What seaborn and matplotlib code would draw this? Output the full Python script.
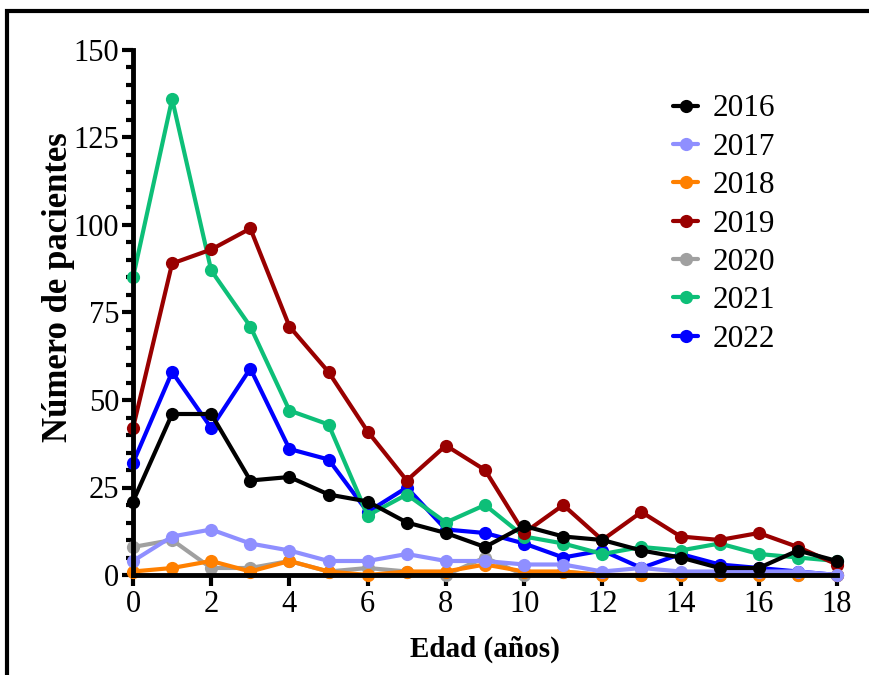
import numpy as np
import pandas as pd
import matplotlib
matplotlib.use("Agg")
import matplotlib.pyplot as plt
from matplotlib.patches import Rectangle
from matplotlib.lines import Line2D
from matplotlib.ticker import MultipleLocator
import seaborn as sns

# Patients per age (0-18 years), by year
edad = list(range(19))
y2016 = [21, 46, 46, 27, 28, 23, 21, 15, 12, 8, 14, 11, 10, 7, 5, 2, 2, 7, 4]
y2017 = [4, 11, 13, 9, 7, 4, 4, 6, 4, 4, 3, 3, 1, 2, 1, 1, 1, 1, 0]
y2018 = [1, 2, 4, 1, 4, 1, 0, 1, 1, 3, 1, 1, 0, 0, 0, 0, 0, 0, 0]
y2019 = [42, 89, 93, 99, 71, 58, 41, 27, 37, 30, 12, 20, 10, 18, 11, 10, 12, 8, 3]
y2020 = [8, 10, 2, 2, 4, 1, 2, 1, 0, 5, 0, 1, 0, 0, 0, 0, 0, 0, 0]
y2021 = [85, 136, 87, 71, 47, 43, 17, 23, 15, 20, 11, 9, 6, 8, 7, 9, 6, 5, 4]
y2022 = [32, 58, 42, 59, 36, 33, 18, 25, 13, 12, 9, 5, 7, 2, 6, 3, 2, 1, 0]

years = ["2016", "2017", "2018", "2019", "2020", "2021", "2022"]
series = [y2016, y2017, y2018, y2019, y2020, y2021, y2022]
colors = ["#000000", "#8F8FFF", "#FF8000", "#990000", "#A0A0A0", "#0DBF78", "#0000FF"]

df = pd.DataFrame({
    "edad": np.tile(edad, len(years)),
    "anio": np.repeat(years, len(edad)),
    "n": np.concatenate(series),
})
palette = dict(zip(years, colors))

sns.set_style("ticks")
plt.rcParams["font.family"] = ["Liberation Serif", "DejaVu Serif"]
plt.rcParams["text.color"] = "black"
plt.rcParams["axes.labelcolor"] = "black"
plt.rcParams["xtick.color"] = "black"
plt.rcParams["ytick.color"] = "black"

fig = plt.figure(figsize=(8.69, 6.75), dpi=100)
ax = fig.add_axes([133 / 869, 1 - 575 / 675, (837 - 133) / 869, (575 - 50) / 675])

# later years underneath, 2016 on top
for yr in reversed(years):
    sns.lineplot(data=df[df["anio"] == yr], x="edad", y="n", color=palette[yr],
                 marker="o", markersize=9.5, markeredgewidth=0, linewidth=3,
                 ax=ax, legend=False, clip_on=False)

ax.set_xlim(0, 18)
ax.set_ylim(0, 150)
ax.xaxis.set_major_locator(MultipleLocator(2))
ax.yaxis.set_major_locator(MultipleLocator(25))
ax.yaxis.set_minor_locator(MultipleLocator(5))

for side in ["top", "right"]:
    ax.spines[side].set_visible(False)
for side in ["left", "bottom"]:
    ax.spines[side].set_linewidth(3.5)
    ax.spines[side].set_color("black")
    ax.spines[side].set_capstyle("projecting")

ax.tick_params(axis="both", which="major", length=8, width=3, colors="black",
               labelcolor="black", labelsize=22)
ax.tick_params(axis="y", which="major", pad=2)
ax.tick_params(axis="x", which="major", pad=3)
ax.tick_params(axis="y", which="minor", length=5, width=3, colors="black")

ax.set_xlabel("Edad (años)", fontsize=21, fontweight="bold", labelpad=12)
ax.set_ylabel("Número de pacientes", fontsize=25, fontweight="bold")
ax.yaxis.set_label_coords(-0.083, 0.549)

handles = [Line2D([0], [0], color=c, marker="o", markersize=9.5, markeredgewidth=0,
                  linewidth=3) for c in colors]
ax.legend(handles, years, loc="upper left", bbox_to_anchor=(0.745, 0.945),
          frameon=False, fontsize=22.5, handlelength=0.8, handletextpad=0.45,
          labelspacing=0.3, borderpad=0)

# outer frame
fig.patches.append(Rectangle((6.5 / 869, -0.1), 1.2, 1.1 - 11.5 / 675,
                             transform=fig.transFigure, fill=False,
                             edgecolor="black", linewidth=3))

fig.savefig("out.png", dpi=100)
